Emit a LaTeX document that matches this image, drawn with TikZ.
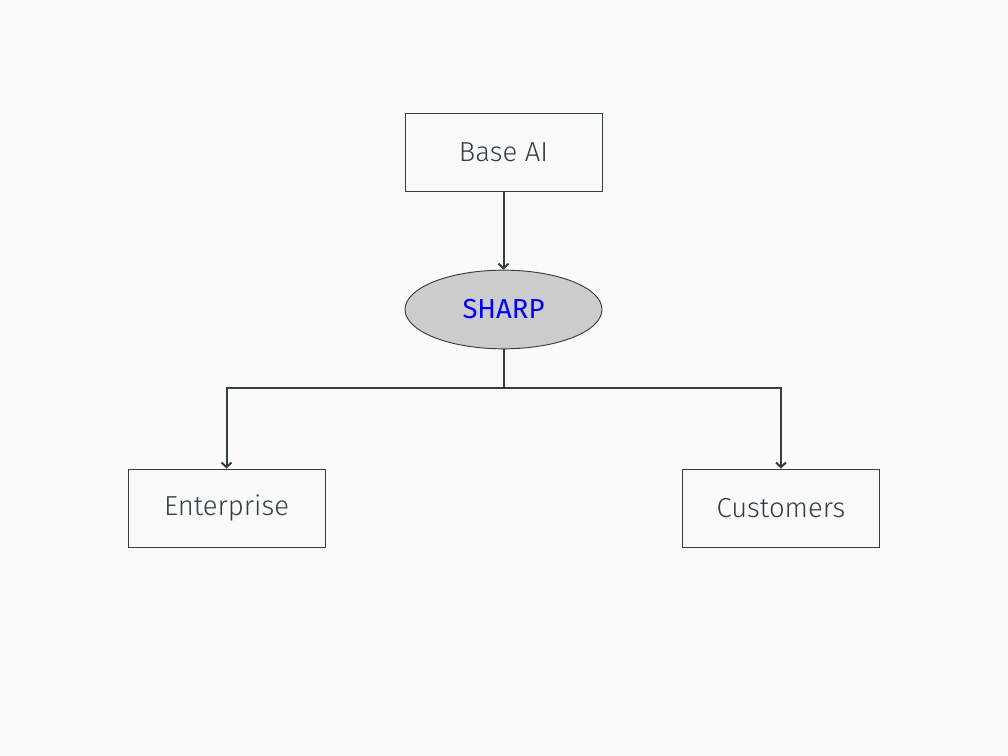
\documentclass[tikz,border=0pt]{standalone}
\usepackage{fontspec}
\setmainfont{Fira Sans Light}
\newfontfamily\hubfont{Fira Sans}
\usetikzlibrary{shapes.geometric, arrows.meta}
\definecolor{ink}{HTML}{2F3F44}
\definecolor{paper}{HTML}{FAFAFA}
\definecolor{hub}{HTML}{CCCCCC}
\begin{document}
\begin{tikzpicture}[x=0.75pt, y=-0.75pt,
                every node/.style = {font=\fontsize{20.6}{24}\selectfont, text=ink},
                box/.style = {draw=ink, line width=0.7pt, fill=paper,
                              minimum width=147.75pt, minimum height=58.5pt},
                hub/.style = {ellipse, draw=ink, line width=0.7pt, fill=hub,
                              minimum width=147.75pt, minimum height=59pt, text=blue,
                              font=\hubfont\fontsize{20.6}{24}\selectfont},
                link/.style = {draw=ink, line width=1.5pt,
                               -{Straight Barb[length=3.5pt, width=7.5pt]}}
            ]
            \fill[paper] (0,0) rectangle (1008,756);
            \useasboundingbox (0,0) rectangle (1008,756);
            \node[box] (base) at (503.5,152) {Base AI};
            \node[hub] (sharp) at (503.5,309.5) {SHARP};
            \node[box] (enterprise) at (226.5,508) {Enterprise};
            \node[box] (customers) at (781,508) {Customers};
            \coordinate (split) at (503.5,388);
            \draw[link] (base) -- (sharp);
            \draw[link] (sharp.south) -- (split) -| (enterprise.north);
            \draw[link] (split) -| (customers.north);
        \end{tikzpicture}
\end{document}
